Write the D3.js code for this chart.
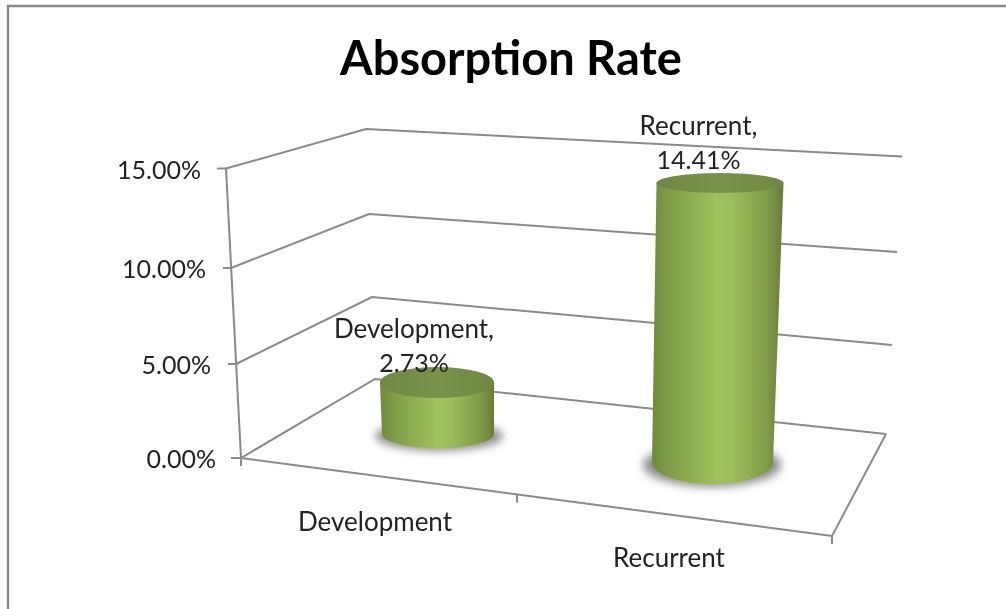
<!DOCTYPE html>
<html>
<head>
<meta charset="utf-8">
<script src="https://cdn.jsdelivr.net/npm/d3@7"></script>
<style>
  html, body { margin: 0; padding: 0; background: #fff; overflow: hidden; }
  text { font-family: Lato, "Open Sans", sans-serif; fill: #222; }
</style>
</head>
<body>
<div id="chart"></div>
<script>
const title = "Absorption Rate";
const categories = ["Development", "Recurrent"];
const absorption = [2.73, 14.41];
const valueTicks = [0, 5, 10, 15];
const tickLabels = ["0.00%", "5.00%", "10.00%", "15.00%"];

const width = 1006, height = 609;

const svg = d3.select("#chart").append("svg")
    .attr("width", width)
    .attr("height", height);

const defs = svg.append("defs");

defs.append("filter").attr("id", "soft")
    .attr("x", "-5%").attr("y", "-5%").attr("width", "110%").attr("height", "110%")
    .append("feGaussianBlur").attr("stdDeviation", 0.5);

const shadowFilter = defs.append("filter").attr("id", "shadow")
    .attr("x", "-30%").attr("y", "-50%").attr("width", "160%").attr("height", "200%");
shadowFilter.append("feGaussianBlur").attr("stdDeviation", 4);

const sideGradient = defs.append("linearGradient").attr("id", "side");
[[0, "#6f8a3e"], [0.12, "#7f9c47"], [0.5, "#a0c25e"], [0.62, "#9cbd5a"], [0.88, "#7f9a48"], [1, "#667c3a"]]
    .forEach(s => sideGradient.append("stop").attr("offset", s[0]).attr("stop-color", s[1]));

const topGradient = defs.append("linearGradient").attr("id", "top");
[[0, "#6f8741"], [0.5, "#7a9349"], [1, "#6f8741"]]
    .forEach(s => topGradient.append("stop").attr("offset", s[0]).attr("stop-color", s[1]));

// Outer frame, only top and left show in the picture
svg.append("path")
    .attr("d", `M8,${height} V6 H${width}`)
    .attr("fill", "none")
    .attr("stroke", "#8a8a8a")
    .attr("stroke-width", 2.4);

const g = svg.append("g").attr("filter", "url(#soft)");

// The 3D box: one value scale for each vertical edge of the walls
const frontX = d3.scaleLinear().domain(valueTicks).range([241, 236, 231, 226]);
const frontY = d3.scaleLinear().domain(valueTicks).range([458, 364, 268, 168.5]);
const backX = d3.scaleLinear().domain(valueTicks).range([375, 372, 369, 366]);
const backY = d3.scaleLinear().domain(valueTicks).range([379, 297, 214, 129]);
const rightX = d3.scaleLinear().domain(valueTicks).range([886, 892, 897, 902]);
const rightY = d3.scaleLinear().domain(valueTicks).range([434, 345, 252, 156.5]);
const tickLen = d3.scaleOrdinal().domain(valueTicks).range([10, 8, 8, 9]);

const axisColor = "#8a8a8a";
const axisWidth = 2;

g.selectAll(".gridline")
    .data(valueTicks)
    .join("path")
    .attr("class", "gridline")
    .attr("fill", "none")
    .attr("stroke", axisColor)
    .attr("stroke-width", axisWidth)
    .attr("d", d => `M${frontX(d)},${frontY(d)} L${backX(d)},${backY(d)} L${rightX(d)},${rightY(d)}`);

// value axis
g.append("path")
    .attr("fill", "none")
    .attr("stroke", axisColor)
    .attr("stroke-width", axisWidth)
    .attr("d", `M${frontX(15)},${frontY(15)} L${frontX(0)},${frontY(0)} V466`);

g.selectAll(".ytick")
    .data(valueTicks)
    .join("line")
    .attr("class", "ytick")
    .attr("stroke", axisColor)
    .attr("stroke-width", axisWidth)
    .attr("x1", d => frontX(d) - tickLen(d))
    .attr("x2", d => frontX(d))
    .attr("y1", d => frontY(d))
    .attr("y2", d => frontY(d));

// floor front and right edges
const floorX = d3.scaleLinear().domain([0, 1, 2]).range([241, 517, 832]);
const floorY = d3.scaleLinear().domain([0, 1, 2]).range([458, 494.5, 536]);

g.append("path")
    .attr("fill", "none")
    .attr("stroke", axisColor)
    .attr("stroke-width", axisWidth)
    .attr("d", `M${floorX(0)},${floorY(0)} L${floorX(2)},${floorY(2)} L${rightX(0)},${rightY(0)}`);

g.selectAll(".xtick")
    .data([1, 2])
    .join("line")
    .attr("class", "xtick")
    .attr("stroke", axisColor)
    .attr("stroke-width", axisWidth)
    .attr("x1", d => floorX(d))
    .attr("x2", d => floorX(d))
    .attr("y1", d => floorY(d))
    .attr("y2", d => floorY(d) + 8);

// Cylinders: each one sits at its own depth in the box
const slots = [
    { base: 434, top15: 151, cx0: 438, cx15: 437, rx0: 56, rx15: 57, ry0: 14, ry15: 15.5, shadow: [439, 436, 64, 15] },
    { base: 462, top15: 171.6, cx0: 712.5, cx15: 720, rx0: 60.5, rx15: 63.5, ry0: 22, ry15: 10, shadow: [712, 465, 69, 22] }
];

const cylinders = g.selectAll(".cylinder")
    .data(categories.map((c, i) => ({ name: c, value: absorption[i], slot: slots[i] })))
    .join("g")
    .attr("class", "cylinder");

cylinders.append("ellipse")
    .attr("cx", d => d.slot.shadow[0])
    .attr("cy", d => d.slot.shadow[1])
    .attr("rx", d => d.slot.shadow[2])
    .attr("ry", d => d.slot.shadow[3])
    .attr("fill", "#6a6a6a")
    .attr("opacity", 0.75)
    .attr("filter", "url(#shadow)");

cylinders.each(function(d) {
    const y = d3.scaleLinear().domain([0, 15]).range([d.slot.base, d.slot.top15]);
    const cx = d3.scaleLinear().domain([0, d.value]).range([d.slot.cx0, d.slot.cx15]);
    const rx = d3.scaleLinear().domain([0, d.value]).range([d.slot.rx0, d.slot.rx15]);
    const ry = d3.scaleLinear().domain([0, d.value]).range([d.slot.ry0, d.slot.ry15]);

    const yTop = y(d.value), yBase = y(0);
    const el = d3.select(this);

    el.append("path")
        .attr("fill", "url(#side)")
        .attr("d", `M${cx(d.value) - rx(d.value)},${yTop}
            L${cx(0) - rx(0)},${yBase}
            A${rx(0)},${ry(0)} 0 0 0 ${cx(0) + rx(0)},${yBase}
            L${cx(d.value) + rx(d.value)},${yTop} Z`);

    el.append("ellipse")
        .attr("cx", cx(d.value))
        .attr("cy", yTop)
        .attr("rx", rx(d.value))
        .attr("ry", ry(d.value))
        .attr("fill", "url(#top)");
});

// Text
g.append("text")
    .attr("x", 511)
    .attr("y", 75)
    .attr("text-anchor", "middle")
    .style("font-size", "47px")
    .style("font-weight", 700)
    .style("fill", "#000")
    .text(title);

g.selectAll(".ylabel")
    .data(valueTicks)
    .join("text")
    .attr("class", "ylabel")
    .attr("x", d => frontX(d) - 25)
    .attr("y", d => frontY(d) + 10)
    .attr("text-anchor", "end")
    .style("font-size", "25px")
    .text((d, i) => tickLabels[i]);

const categoryLabelPos = [[375, 531], [669, 567]];
g.selectAll(".xlabel")
    .data(categories)
    .join("text")
    .attr("class", "xlabel")
    .attr("x", (d, i) => categoryLabelPos[i][0])
    .attr("y", (d, i) => categoryLabelPos[i][1])
    .attr("text-anchor", "middle")
    .style("font-size", "26px")
    .text(d => d);

const dataLabelPos = [[414, 338, 372], [698.5, 135, 169]];
categories.forEach((c, i) => {
    g.append("text")
        .attr("x", dataLabelPos[i][0])
        .attr("y", dataLabelPos[i][1])
        .attr("text-anchor", "middle")
        .style("font-size", "26px")
        .text(c + ",");
    g.append("text")
        .attr("x", dataLabelPos[i][0])
        .attr("y", dataLabelPos[i][2])
        .attr("text-anchor", "middle")
        .style("font-size", "25px")
        .text(d3.format(".2f")(absorption[i]) + "%");
});
</script>
</body>
</html>
